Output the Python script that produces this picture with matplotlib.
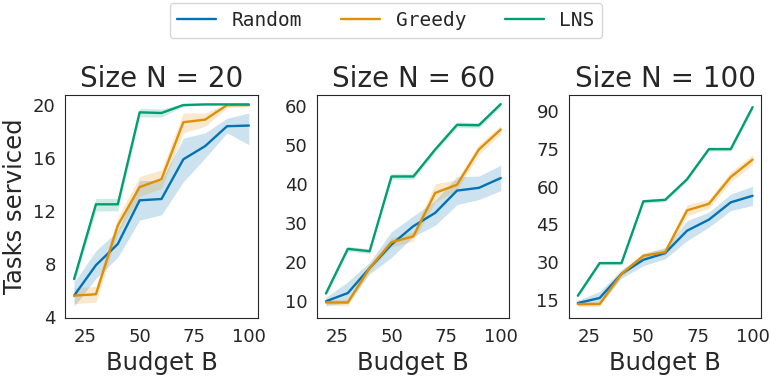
import numpy as np
import matplotlib
matplotlib.use("Agg")
import matplotlib.pyplot as plt
import seaborn as sns

budgets = [20, 30, 40, 50, 60, 70, 80, 90, 100]
sizes = [20, 60, 100]
methods = ["Random", "Greedy", "LNS"]

# N = 20
random_20 = [5.6, 7.9, 9.5, 12.8, 12.9, 15.9, 16.9, 18.4, 18.45]
random_20_lo = [4.8, 6.9, 8.5, 11.3, 11.7, 14.2, 16.0, 17.9, 17.0]
random_20_hi = [6.6, 9.0, 10.5, 14.3, 14.3, 17.5, 17.9, 19.0, 19.4]
greedy_20 = [5.6, 5.7, 10.9, 13.8, 14.4, 18.7, 18.9, 20.0, 20.0]
greedy_20_lo = [5.0, 5.1, 10.3, 13.1, 13.7, 17.9, 18.4, 19.8, 19.9]
greedy_20_hi = [6.2, 6.3, 11.5, 14.6, 15.1, 19.4, 19.4, 20.1, 20.1]
lns_20 = [6.85, 12.5, 12.5, 19.45, 19.4, 20.0, 20.05, 20.05, 20.05]
lns_20_lo = [6.5, 12.0, 12.0, 19.1, 19.1, 19.9, 20.0, 20.0, 20.0]
lns_20_hi = [7.2, 12.95, 12.95, 19.75, 19.7, 20.1, 20.1, 20.1, 20.1]

# N = 60
random_60 = [10.0, 12.1, 18.5, 24.5, 29.2, 32.6, 38.3, 39.0, 41.5]
random_60_lo = [9.0, 9.5, 17.0, 21.2, 26.6, 29.4, 34.7, 36.0, 38.3]
random_60_hi = [11.0, 15.0, 20.0, 27.8, 31.8, 35.8, 41.9, 42.0, 44.8]
greedy_60 = [9.7, 9.7, 18.5, 25.1, 26.6, 37.7, 39.8, 48.8, 53.9]
greedy_60_lo = [8.9, 8.9, 17.7, 23.9, 25.4, 35.4, 38.5, 47.5, 52.8]
greedy_60_hi = [10.5, 10.5, 19.3, 26.3, 27.8, 40.0, 41.1, 50.1, 55.0]
lns_60 = [12.0, 23.4, 22.8, 41.9, 41.9, 48.8, 55.1, 55.0, 60.4]
lns_60_lo = [11.4, 22.8, 22.2, 41.2, 41.2, 48.2, 54.4, 54.3, 59.8]
lns_60_hi = [12.6, 24.0, 23.4, 42.6, 42.6, 49.4, 55.8, 55.7, 61.0]

# N = 100
random_100 = [13.7, 15.7, 25.3, 30.9, 33.6, 42.5, 46.9, 53.8, 56.4]
random_100_lo = [12.7, 13.1, 23.6, 28.6, 31.3, 38.5, 43.9, 50.5, 52.6]
random_100_hi = [14.7, 18.3, 27.0, 33.2, 35.9, 46.5, 49.9, 57.1, 60.2]
greedy_100 = [13.3, 13.3, 25.3, 32.5, 34.0, 50.6, 53.2, 63.9, 70.8]
greedy_100_lo = [12.3, 12.3, 24.3, 31.2, 32.7, 48.4, 51.4, 61.9, 68.8]
greedy_100_hi = [14.3, 14.3, 26.3, 33.8, 35.3, 52.8, 55.0, 65.9, 72.8]
lns_100 = [16.6, 29.6, 29.6, 54.2, 54.8, 63.0, 75.0, 75.0, 91.7]
lns_100_lo = [15.9, 28.9, 28.9, 53.4, 54.0, 62.3, 74.2, 74.2, 90.9]
lns_100_hi = [17.3, 30.3, 30.3, 55.0, 55.6, 63.7, 75.8, 75.8, 92.5]

yticks = [[4, 8, 12, 16, 20], [10, 20, 30, 40, 50, 60], [15, 30, 45, 60, 75, 90]]
ylims = [(3.9, 20.75), (5.7, 62.7), (7.7, 96.5)]

series = {
    20: [(random_20, random_20_lo, random_20_hi),
         (greedy_20, greedy_20_lo, greedy_20_hi),
         (lns_20, lns_20_lo, lns_20_hi)],
    60: [(random_60, random_60_lo, random_60_hi),
         (greedy_60, greedy_60_lo, greedy_60_hi),
         (lns_60, lns_60_lo, lns_60_hi)],
    100: [(random_100, random_100_lo, random_100_hi),
          (greedy_100, greedy_100_lo, greedy_100_hi),
          (lns_100, lns_100_lo, lns_100_hi)],
}

sns.set_style("white")
colors = sns.color_palette("colorblind", 3)

fig, axes = plt.subplots(1, 3, figsize=(7.69, 3.76), dpi=100)
fig.subplots_adjust(left=0.085, right=0.99, top=0.747, bottom=0.154, wspace=0.31)

handles = []
for i, (ax, n) in enumerate(zip(axes, sizes)):
    for j, (mean, lo, hi) in enumerate(series[n]):
        line, = ax.plot(budgets, mean, color=colors[j], lw=1.7, label=methods[j])
        ax.fill_between(budgets, lo, hi, color=colors[j], alpha=0.2, lw=0)
        if i == 0:
            handles.append(line)
    ax.set_title(f"Size N = {n}", fontsize=20)
    ax.set_xlabel("Budget B", fontsize=17.5)
    ax.set_xticks([25, 50, 75, 100])
    ax.set_yticks(yticks[i])
    ax.set_ylim(*ylims[i])
    ax.tick_params(labelsize=13)
    for sp in ax.spines.values():
        sp.set_color("0.15")

axes[0].set_ylabel("Tasks serviced", fontsize=17.5)

fig.legend(handles, methods, loc="upper center", bbox_to_anchor=(0.502, 1.018),
           ncol=3, prop={"family": "DejaVu Sans Mono", "size": 14})

fig.savefig("out.png", dpi=100)
